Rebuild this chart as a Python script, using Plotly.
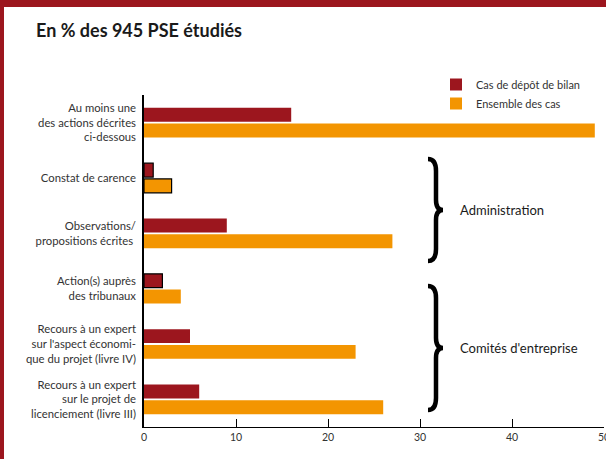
import plotly.graph_objects as go

# ---------------- data ----------------
categories = [
    "Au moins une<br>des actions décrites<br>ci-dessous",
    "Constat de carence",
    "Observations/<br>propositions écrites ",
    "Action(s) auprès<br>des tribunaux",
    "Recours à un expert<br>sur l'aspect économi-<br>que du projet (livre IV)",
    "Recours à un expert<br>sur le projet de<br>licenciement (livre III)",
]
depot_bilan = [16, 1, 9, 2, 5, 6]
ensemble = [49, 3, 27, 4, 23, 26]
series_names = ["Cas de dépôt de bilan", "Ensemble des cas"]
x_ticks = [0, 10, 20, 30, 40, 50]
group_labels = ["Administration", "Comités d'entreprise"]
title_text = "En % des 945 PSE étudiés"

# ---------------- style ----------------
RED = "#9C161E"
ORANGE = "#F39501"
FONT = "Lato"
W, H = 606, 459
ML, MR, MT, MB = 144, 2, 95, 32
PW, PH = W - ML - MR, H - MT - MB


def fx(px):
    return (px - ML) / PW


def fy(py):
    return (H - MB - py) / PH


def brace_path(x0, xm, xt, y0, y1):
    ym = (y0 + y1) / 2
    pts = [
        ("M", [(x0, y0)]),
        ("Q", [(xm, y0), (xm, y0 + 12)]),
        ("L", [(xm, ym - 10)]),
        ("Q", [(xm, ym), (xt, ym)]),
        ("Q", [(xm, ym), (xm, ym + 10)]),
        ("L", [(xm, y1 - 12)]),
        ("Q", [(xm, y1), (x0, y1)]),
    ]
    s = ""
    for cmd, ps in pts:
        s += cmd + " " + " ".join(f"{fx(a):.5f},{fy(b):.5f}" for a, b in ps) + " "
    return s.strip()


fig = go.Figure()
fig.add_trace(go.Bar(
    y=categories, x=depot_bilan, orientation="h", name=series_names[0],
    marker=dict(color=RED, line=dict(color="black", width=[0, 1.2, 0, 1.2, 0, 0])),
))
fig.add_trace(go.Bar(
    y=categories, x=ensemble, orientation="h", name=series_names[1],
    marker=dict(color=ORANGE, line=dict(color="black", width=[0, 1.2, 0, 0, 0, 0])),
))

shapes = [
    dict(type="rect", xref="paper", yref="paper", x0=fx(0), x1=fx(4), y0=fy(H), y1=fy(0),
         fillcolor=RED, line=dict(width=0), layer="above"),
    dict(type="rect", xref="paper", yref="paper", x0=fx(0), x1=fx(W), y0=fy(7), y1=fy(0),
         fillcolor=RED, line=dict(width=0), layer="above"),
    dict(type="path", xref="paper", yref="paper", path=brace_path(428, 436, 443, 159, 261),
         line=dict(color="black", width=4.5), fillcolor="rgba(0,0,0,0)"),
    dict(type="path", xref="paper", yref="paper", path=brace_path(428, 436, 443, 286, 410),
         line=dict(color="black", width=4.5), fillcolor="rgba(0,0,0,0)"),
]

annotations = [
    dict(text=group_labels[0], xref="paper", yref="paper", x=fx(458), y=fy(210),
         xanchor="left", yanchor="middle", showarrow=False,
         font=dict(family=FONT, size=13, color="#1a1a1a")),
    dict(text=group_labels[1], xref="paper", yref="paper", x=fx(458), y=fy(348),
         xanchor="left", yanchor="middle", showarrow=False,
         font=dict(family=FONT, size=13, color="#1a1a1a")),
]

fig.update_layout(
    width=W, height=H,
    margin=dict(l=ML, r=MR, t=MT, b=MB),
    paper_bgcolor="white", plot_bgcolor="white",
    barmode="group", bargap=0.43, bargroupgap=0.12,
    title=dict(text=f"<b>{title_text}</b>", xref="container", yref="container",
               x=36 / W, y=1 - 31 / H, xanchor="left", yanchor="middle",
               font=dict(family=FONT, size=18, color="#1a1a1a")),
    font=dict(family=FONT, size=11.3, color="#333333"),
    showlegend=True,
    legend=dict(x=fx(436), y=fy(70), xanchor="left", yanchor="top",
                traceorder="normal", bgcolor="rgba(0,0,0,0)",
                font=dict(family=FONT, size=11, color="#333333")),
    shapes=shapes,
    annotations=annotations,
)
fig.update_xaxes(range=[0, 50], tickvals=x_ticks, ticks="inside", ticklen=8,
                 tickcolor="black", showline=True, linecolor="black", linewidth=1,
                 showgrid=False, zeroline=False, ticklabeloverflow="allow",
                 automargin=False,
                 tickfont=dict(size=10.5, color="#333333"))
fig.update_yaxes(autorange="reversed", showline=True, linecolor="black", linewidth=1.5,
                 showgrid=False, ticks="", ticklabelstandoff=4, automargin=False,
                 tickfont=dict(size=11.3, color="#333333"))

fig.write_html("out.html")
